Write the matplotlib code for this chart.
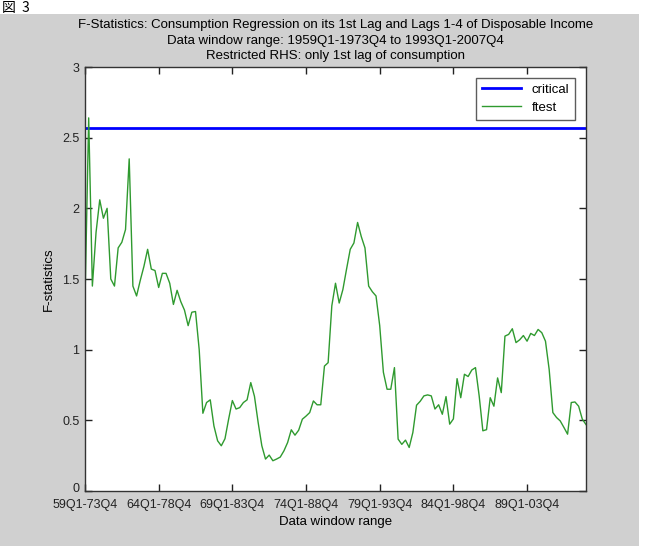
import matplotlib
matplotlib.use("Agg")
import matplotlib.pyplot as plt
from matplotlib.patches import Rectangle
from matplotlib.transforms import ScaledTranslation

# ---- data ----
ftest = [
    1.35, 2.64, 1.45, 1.83, 2.06, 1.93, 2.00, 1.50, 1.45, 1.72,
    1.76, 1.85, 2.35, 1.45, 1.38, 1.49, 1.59, 1.71, 1.57, 1.56,
    1.44, 1.54, 1.54, 1.47, 1.32, 1.42, 1.34, 1.28, 1.17, 1.265,
    1.27, 1.00, 0.55, 0.626, 0.645, 0.46, 0.355, 0.32, 0.37, 0.51,
    0.64, 0.58, 0.59, 0.626, 0.645, 0.767, 0.67, 0.485, 0.32, 0.226,
    0.254, 0.214, 0.226, 0.24, 0.284, 0.343, 0.433, 0.395, 0.43, 0.508,
    0.53, 0.555, 0.637, 0.61, 0.61, 0.884, 0.908, 1.31, 1.47, 1.33,
    1.425, 1.57, 1.71, 1.755, 1.90, 1.80, 1.72, 1.45, 1.41, 1.38,
    1.17, 0.84, 0.72, 0.72, 0.873, 0.367, 0.33, 0.36, 0.308, 0.414,
    0.607, 0.635, 0.673, 0.68, 0.673, 0.58, 0.61, 0.543, 0.668, 0.473,
    0.51, 0.795, 0.66, 0.826, 0.81, 0.856, 0.873, 0.673, 0.426, 0.434,
    0.66, 0.60, 0.80, 0.696, 1.096, 1.108, 1.148, 1.05, 1.07, 1.10,
    1.06, 1.115, 1.10, 1.143, 1.12, 1.06, 0.86, 0.555, 0.52, 0.496,
    0.45, 0.402, 0.626, 0.63, 0.60, 0.508, 0.47,
]
critical = 2.57
window_index = list(range(1, len(ftest) + 1))
tick_positions = [1, 21, 41, 61, 81, 101, 121]
tick_labels = ["59Q1-73Q4", "64Q1-78Q4", "69Q1-83Q4", "74Q1-88Q4",
               "79Q1-93Q4", "84Q1-98Q4", "89Q1-03Q4"]
y_ticks = [0, 0.5, 1, 1.5, 2, 2.5, 3]
y_tick_labels = ["0", "0.5", "1", "1.5", "2", "2.5", "3"]

title_text = ("F-Statistics: Consumption Regression on its 1st Lag and Lags 1-4 of Disposable Income\n"
              "Data window range: 1959Q1-1973Q4 to 1993Q1-2007Q4\n"
              "Restricted RHS: only 1st lag of consumption")

plt.rcParams['font.family'] = ['Liberation Sans', 'DejaVu Sans']

W, H = 648, 546
fig = plt.figure(figsize=(W / 100, H / 100), dpi=100, facecolor='white')

# grey MATLAB figure background
fig.patches.append(Rectangle((0, 0), 639 / W, (H - 14) / H, transform=fig.transFigure,
                             facecolor='#d0d0d0', edgecolor='none', zorder=-10))
fig.text(2 / W, 1 - 8 / H, "図  3", family=['Noto Sans CJK JP', 'DejaVu Sans'],
         fontsize=10, va='center', ha='left', color='black')

left, right, top, bottom = 85, 586, 67, 491
ax = fig.add_axes([left / W, 1 - bottom / H, (right - left) / W, (bottom - top) / H])
ax.set_facecolor('white')

ax.axhline(critical, color='#0000ff', lw=2, label='critical')
ax.plot(window_index, ftest, color='#2f9a2f', lw=1, label='ftest')

ax.set_xlim(1, len(ftest))
ax.set_ylim(0, 3)
ax.set_xticks(tick_positions)
ax.set_xticklabels(tick_labels)
ax.set_yticks(y_ticks)
ax.set_yticklabels(y_tick_labels)
ax.tick_params(direction='in', length=5, width=1, top=True, right=True,
               labelsize=9, colors='#222222')
ax.tick_params(axis='x', pad=6)
ax.tick_params(axis='y', pad=4)
for s in ax.spines.values():
    s.set_color('#333333')
    s.set_linewidth(1)

# MATLAB puts the "0" y label slightly raised above the x labels
zero_lbl = ax.get_yticklabels()[0]
zero_lbl.set_transform(zero_lbl.get_transform() + ScaledTranslation(0, 3 / 100, fig.dpi_scale_trans))

ax.set_xlabel("Data window range", fontsize=9.5, labelpad=3)
ax.set_ylabel("F-statistics", fontsize=9.5, labelpad=5)
ax.set_title(title_text, fontsize=9.5, linespacing=1.35, pad=6)

leg = ax.legend(loc='upper right', fontsize=9.5, frameon=True, fancybox=False,
                edgecolor='#333333', borderaxespad=0.8, handlelength=3.0,
                labelspacing=0.45, borderpad=0.45)
leg.get_frame().set_linewidth(1)

fig.savefig("out.png", dpi=100, facecolor=fig.get_facecolor())
